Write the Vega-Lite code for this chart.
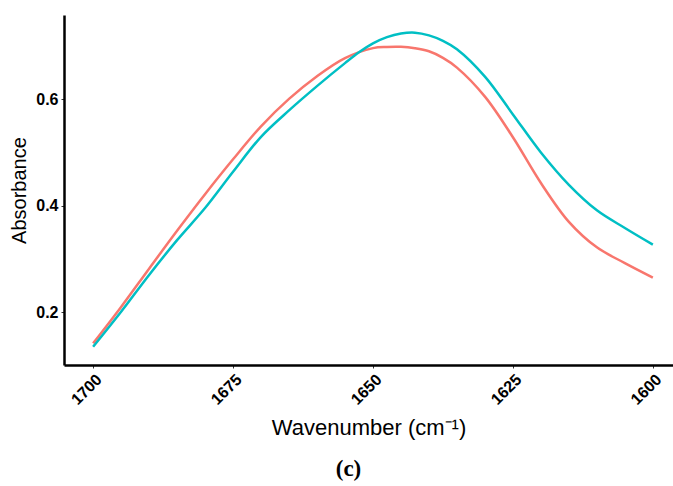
{
  "$schema": "https://vega.github.io/schema/vega-lite/v6.json",
  "width": 609,
  "height": 350,
  "autosize": "none",
  "padding": {"left": 64, "top": 15, "right": 0, "bottom": 121},
  "background": "white",
  "config": {"view": {"stroke": null}},
  "title": {"text": "(c)", "orient": "bottom", "anchor": "middle", "frame": "group", "dx": -20, "offset": 20, "font": "Liberation Serif", "fontSize": 23, "fontWeight": "bold", "color": "#000"},
  "data": {"values": [
    {"w": 1700, "s": "A", "a": 0.1412}, {"w": 1695, "s": "A", "a": 0.2096}, {"w": 1690, "s": "A", "a": 0.2815},
    {"w": 1685, "s": "A", "a": 0.3527}, {"w": 1680, "s": "A", "a": 0.4214}, {"w": 1675, "s": "A", "a": 0.4869},
    {"w": 1670, "s": "A", "a": 0.5489}, {"w": 1665, "s": "A", "a": 0.6004}, {"w": 1660, "s": "A", "a": 0.643},
    {"w": 1655, "s": "A", "a": 0.677}, {"w": 1650, "s": "A", "a": 0.6958}, {"w": 1647.5, "s": "A", "a": 0.698},
    {"w": 1645, "s": "A", "a": 0.6982}, {"w": 1642.5, "s": "A", "a": 0.6955},
    {"w": 1640, "s": "A", "a": 0.6898}, {"w": 1637.5, "s": "A", "a": 0.6775}, {"w": 1635, "s": "A", "a": 0.6592}, {"w": 1630, "s": "A", "a": 0.6047},
    {"w": 1625, "s": "A", "a": 0.5283}, {"w": 1620, "s": "A", "a": 0.4424}, {"w": 1615, "s": "A", "a": 0.3694},
    {"w": 1610, "s": "A", "a": 0.3215}, {"w": 1605, "s": "A", "a": 0.292}, {"w": 1600, "s": "A", "a": 0.2648},
    {"w": 1700, "s": "B", "a": 0.1348}, {"w": 1695, "s": "B", "a": 0.2006}, {"w": 1690, "s": "B", "a": 0.2697},
    {"w": 1685, "s": "B", "a": 0.335}, {"w": 1680, "s": "B", "a": 0.3953}, {"w": 1675, "s": "B", "a": 0.4635},
    {"w": 1670, "s": "B", "a": 0.5292}, {"w": 1665, "s": "B", "a": 0.5788}, {"w": 1660, "s": "B", "a": 0.6244},
    {"w": 1655, "s": "B", "a": 0.6676}, {"w": 1652.5, "s": "B", "a": 0.688}, {"w": 1650, "s": "B", "a": 0.7048},
    {"w": 1647.5, "s": "B", "a": 0.7165}, {"w": 1645, "s": "B", "a": 0.7232}, {"w": 1642.5, "s": "B", "a": 0.7248},
    {"w": 1640, "s": "B", "a": 0.7198}, {"w": 1637.5, "s": "B", "a": 0.7095}, {"w": 1635, "s": "B", "a": 0.6937}, {"w": 1630, "s": "B", "a": 0.6423},
    {"w": 1625, "s": "B", "a": 0.5713}, {"w": 1620, "s": "B", "a": 0.4997}, {"w": 1615, "s": "B", "a": 0.4389},
    {"w": 1610, "s": "B", "a": 0.391}, {"w": 1605, "s": "B", "a": 0.3579}, {"w": 1600, "s": "B", "a": 0.3266}
  ]},
  "mark": {"type": "line", "strokeWidth": 2.5, "interpolate": "catmull-rom"},
  "encoding": {
    "x": {
      "field": "w", "type": "quantitative",
      "scale": {"domain": [1596.4, 1705.2], "reverse": true, "nice": false, "zero": false},
      "axis": {
        "title": "Wavenumber (cm⁻¹)", "values": [1600, 1625, 1650, 1675, 1700], "format": "d",
        "grid": false, "domainColor": "#000", "domainWidth": 2.5, "tickColor": "#333", "tickSize": 3, "tickWidth": 1,
        "labelAngle": -45, "labelFont": "Liberation Sans", "labelFontSize": 16, "labelFontWeight": "bold", "labelColor": "#000", "labelPadding": 3,
        "titleFont": "Liberation Sans", "titleFontSize": 22, "titleFontWeight": "normal", "titleColor": "#000", "titlePadding": 10
      }
    },
    "y": {
      "field": "a", "type": "quantitative",
      "scale": {"domain": [0.1005, 0.758], "nice": false, "zero": false},
      "axis": {
        "title": "Absorbance", "values": [0.2, 0.4, 0.6], "format": ".1f",
        "grid": false, "domainColor": "#000", "domainWidth": 2.5, "tickColor": "#333", "tickSize": 3, "tickWidth": 1,
        "labelFont": "Liberation Sans", "labelFontSize": 16, "labelFontWeight": "bold", "labelColor": "#000", "labelPadding": 3,
        "titleFont": "Liberation Sans", "titleFontSize": 20, "titleFontWeight": "normal", "titleColor": "#000", "titlePadding": 6
      }
    },
    "color": {"field": "s", "type": "nominal", "scale": {"domain": ["A", "B"], "range": ["#F8766D", "#00BFC4"]}, "legend": null}
  }
}
